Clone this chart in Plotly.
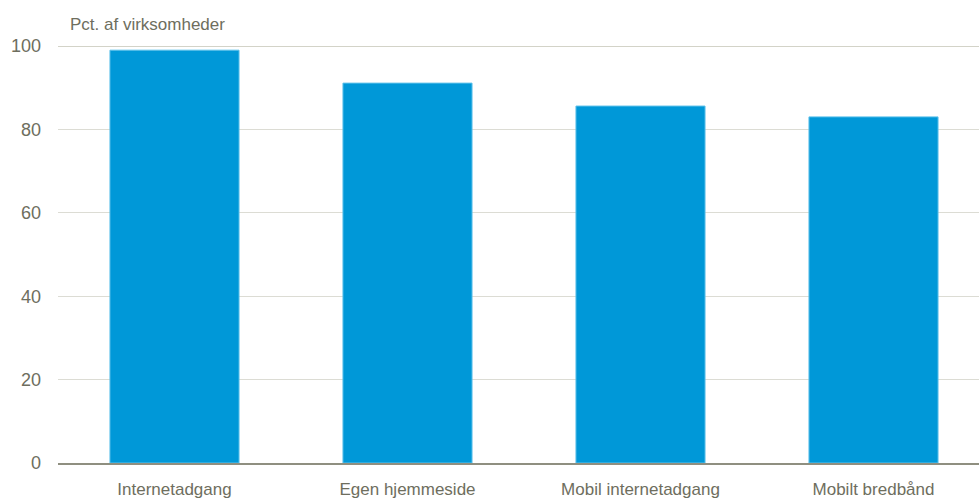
import plotly.graph_objects as go

categories = ["Internetadgang", "Egen hjemmeside", "Mobil internetadgang", "Mobilt bredbånd"]
values = [99.0, 91.1, 85.6, 83.0]
tick_vals = [0, 20, 40, 60, 80, 100]
tick_text = ["0", "20", "40", "60", "80", "100"]
y_title = "Pct. af virksomheder"

FONT = "Liberation Sans, Arial, sans-serif"
TXT = "#6e6e5e"

fig = go.Figure()
fig.add_trace(go.Bar(
    x=categories, y=values,
    marker=dict(color="#0098d8", line=dict(color="#5cc0ea", width=1)),
    hoverinfo="x+y",
))

fig.update_layout(
    width=990, height=499,
    margin=dict(l=58, r=0, t=46, b=36),
    paper_bgcolor="white", plot_bgcolor="white",
    bargap=0.446,
    showlegend=False,
    font=dict(family=FONT, color=TXT, size=18),
    xaxis=dict(
        showgrid=False, showline=True, linecolor="#8f8f80", linewidth=1.5,
        ticks="", tickfont=dict(size=17, color=TXT, family=FONT),
        ticklabelstandoff=10, fixedrange=True,
    ),
    yaxis=dict(
        range=[0, 100], tickvals=tick_vals, ticktext=tick_text,
        showgrid=True, gridcolor="#dcdcd4", gridwidth=1.3,
        zeroline=False, showline=False, ticks="",
        tickfont=dict(size=18, color=TXT, family=FONT),
        ticklabelstandoff=16, fixedrange=True,
    ),
    annotations=[dict(
        text=y_title, xref="paper", yref="paper", x=0.0, y=1.0,
        xshift=10, yshift=10, xanchor="left", yanchor="bottom", showarrow=False,
        font=dict(size=17, color=TXT, family=FONT),
    )],
    shapes=[dict(
        type="line", xref="paper", yref="y", x0=0, x1=1,
        y0=tick_vals[-1], y1=tick_vals[-1],
        line=dict(color="#c4c4b6", width=1.5), layer="below",
    )],
)

fig.write_html(
    "out.html",
    config={"displayModeBar": False},
    post_script="document.body.style.margin='0';document.body.style.overflow='hidden';",
)
